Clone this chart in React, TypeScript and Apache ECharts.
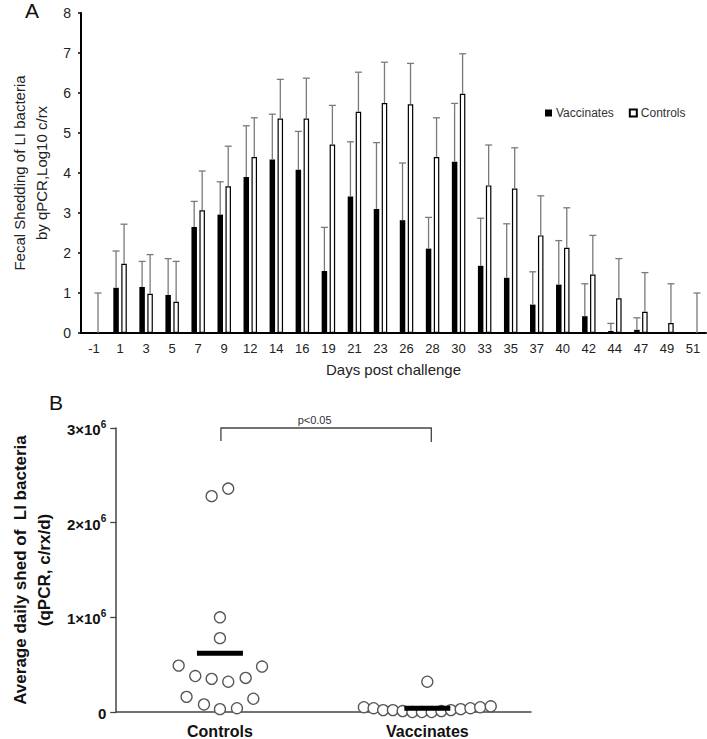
import React, { useEffect, useRef } from 'react';
import * as echarts from 'echarts';

const FONT = 'Arial, "Liberation Sans", Helvetica, sans-serif';

// Panel A data
const days = ['-1', '1', '3', '5', '7', '9', '12', '14', '16', '19', '21', '23', '26', '28', '30', '33', '35', '37', '40', '42', '44', '47', '49', '51'];
const vaccMean = [0, 1.13, 1.15, 0.95, 2.65, 2.96, 3.9, 4.34, 4.08, 1.55, 3.41, 3.1, 2.82, 2.11, 4.28, 1.68, 1.38, 0.71, 1.21, 0.42, 0.05, 0.08, 0, 0];
const vaccSD = [0, 0.92, 0.64, 0.91, 0.64, 0.82, 1.28, 1.13, 0.96, 1.09, 1.37, 1.66, 1.43, 0.78, 1.46, 1.19, 1.35, 0.82, 1.1, 0.81, 0.19, 0.3, 0, 0];
const ctrlMean = [0, 1.73, 0.98, 0.78, 3.07, 3.67, 4.4, 5.36, 5.36, 4.71, 5.53, 5.75, 5.72, 4.4, 5.98, 3.69, 3.61, 2.44, 2.13, 1.46, 0.87, 0.53, 0.25, 0];
const ctrlSD = [1.0, 0.99, 0.98, 1.01, 0.98, 1.0, 0.98, 0.98, 1.01, 0.98, 0.99, 1.02, 1.02, 0.98, 1.0, 1.01, 1.02, 0.99, 1.0, 0.98, 0.99, 0.98, 0.98, 1.0];

// Panel B data
const groups = ['Controls', 'Vaccinates'];
const controlsShed = [2.28e6, 2.36e6, 1.0e6, 0.78e6, 0.49e6, 0.48e6, 0.38e6, 0.35e6, 0.32e6, 0.36e6, 0.16e6, 0.14e6, 0.08e6, 0.03e6, 0.04e6];
const controlsJitter = [-0.04, 0.04, 0, 0, -0.199, 0.203, -0.119, -0.04, 0.04, 0.124, -0.161, 0.161, -0.077, 0, 0.082];
const vaccinatesShed = [0.05e6, 0.04e6, 0.02e6, 0.02e6, 0.01e6, 0, 0, 0, 0.01e6, 0.02e6, 0.03e6, 0.04e6, 0.05e6, 0.06e6, 0.32e6];
const vaccinatesJitter = [-0.306, -0.259, -0.213, -0.166, -0.119, -0.072, -0.026, 0.021, 0.068, 0.114, 0.161, 0.208, 0.255, 0.306, 0];
const groupMeans = [0.62e6, 0.04e6];
const bracketGroups = [0, 1];
const bracketLevel = 3e6;
const bracketLabel = 'p<0.05';

const ERR = '#7a7a7a';

function makeErr(offset: number) {
  return (params: any, api: any) => {
    const sd = api.value(2);
    if (!sd) return null;
    const m = api.value(1);
    const i = api.value(0);
    const x = api.coord([i, 0])[0] + offset;
    const y0 = api.coord([i, m])[1];
    const y1 = api.coord([i, m + sd])[1];
    return {
      type: 'group',
      children: [
        { type: 'line', shape: { x1: x, y1: y0, x2: x, y2: y1 }, style: { stroke: ERR, lineWidth: 1.3 } },
        { type: 'line', shape: { x1: x - 3.5, y1: y1, x2: x + 3.5, y2: y1 }, style: { stroke: ERR, lineWidth: 1.3 } },
      ],
    };
  };
}

export default function App() {
  const ref = useRef<HTMLDivElement>(null);
  useEffect(() => {
    const chart = echarts.init(ref.current!, null, { renderer: 'svg' });
    const option: any = {
      animation: false,
      backgroundColor: '#fff',
      textStyle: { fontFamily: FONT },
      graphic: [
        { type: 'text', left: 25, top: 0, style: { text: 'A', fontSize: 21, fontFamily: FONT, fill: '#111' } },
        { type: 'text', left: 49, top: 392, style: { text: 'B', fontSize: 21, fontFamily: FONT, fill: '#111' } },
      ],
      legend: {
        data: ['Vaccinates', 'Controls'],
        left: 540,
        top: 102,
        icon: 'rect',
        itemWidth: 7,
        itemHeight: 7,
        itemGap: 15,
        textStyle: { fontSize: 12, color: '#333', fontFamily: FONT, padding: [0, 0, 0, -1] },
      },
      grid: [
        { left: 73, right: 1, top: 13, height: 320 },
        { left: 103, width: 428, top: 428, height: 285 },
      ],
      xAxis: [
        {
          gridIndex: 0,
          type: 'category',
          data: days,
          axisLine: { lineStyle: { color: '#000', width: 2 } },
          axisTick: { show: false },
          axisLabel: { interval: 0, fontSize: 13, color: '#222', margin: 9, fontFamily: FONT },
          name: 'Days post challenge',
          nameLocation: 'middle',
          nameGap: 29,
          nameTextStyle: { fontSize: 15, color: '#222', fontFamily: FONT },
        },
        {
          gridIndex: 1,
          type: 'category',
          data: groups,
          axisLine: { lineStyle: { color: '#444', width: 1.5 } },
          axisTick: { alignWithLabel: true, length: 6, lineStyle: { color: '#444', width: 1.3 } },
          axisLabel: { fontSize: 16, fontWeight: 'bold', color: '#111', margin: 11, fontFamily: FONT },
        },
        { gridIndex: 1, type: 'value', min: -0.5, max: 1.5, show: false },
      ],
      yAxis: [
        {
          gridIndex: 0,
          type: 'value',
          min: 0,
          max: 8,
          interval: 1,
          splitLine: { show: false },
          axisLine: { show: true, onZero: false, lineStyle: { color: '#000', width: 2 } },
          axisTick: { show: true, length: 3, lineStyle: { color: '#000', width: 1.5 } },
          axisLabel: { fontSize: 14, color: '#222', margin: 10, fontFamily: FONT },
          name: 'Fecal Shedding of LI bacteria\nby qPCR,Log10 c/rx',
          nameLocation: 'middle',
          nameGap: 29,
          nameTextStyle: { fontSize: 15, lineHeight: 22, color: '#222', fontFamily: FONT },
        },
        {
          gridIndex: 1,
          type: 'value',
          min: 0,
          max: 3e6,
          interval: 1e6,
          splitLine: { show: false },
          axisLine: { show: true, onZero: false, lineStyle: { color: '#444', width: 1.5 } },
          axisTick: { show: true, length: 6, lineStyle: { color: '#444', width: 1.3 } },
          axisLabel: {
            margin: 10,
            formatter: (v: number) => (v === 0 ? '{b|0}' : `{b|${v / 1e6}×10}{s|6}`),
            rich: {
              b: { fontSize: 15, fontWeight: 'bold', color: '#111', fontFamily: FONT, lineHeight: 18, verticalAlign: 'bottom' },
              s: { fontSize: 10, fontWeight: 'bold', color: '#111', fontFamily: FONT, lineHeight: 18, verticalAlign: 'top' },
            },
          },
          name: 'Average daily shed of  LI bacteria\n(qPCR, c/rx/d)',
          nameLocation: 'middle',
          nameGap: 58,
          nameTextStyle: { fontSize: 17, fontWeight: 'bold', lineHeight: 24, color: '#111', fontFamily: FONT },
        },
      ],
      series: [
        {
          name: 'Vaccinates',
          type: 'bar',
          xAxisIndex: 0,
          yAxisIndex: 0,
          data: vaccMean,
          barWidth: 5.5,
          barGap: '45%',
          itemStyle: { color: '#000', borderColor: '#000', borderWidth: 0 },
          z: 2,
        },
        {
          name: 'Controls',
          type: 'bar',
          xAxisIndex: 0,
          yAxisIndex: 0,
          data: ctrlMean,
          barWidth: 5.5,
          barGap: '45%',
          itemStyle: { color: '#fff', borderColor: '#000', borderWidth: 1.2 },
          z: 2,
        },
        {
          type: 'custom',
          xAxisIndex: 0,
          yAxisIndex: 0,
          renderItem: makeErr(-4),
          data: days.map((d, i) => [i, vaccMean[i], vaccSD[i]]),
          encode: { x: 0, y: 1 },
          z: 3,
          silent: true,
        },
        {
          type: 'custom',
          xAxisIndex: 0,
          yAxisIndex: 0,
          renderItem: makeErr(4),
          data: days.map((d, i) => [i, ctrlMean[i], ctrlSD[i]]),
          encode: { x: 0, y: 1 },
          z: 3,
          silent: true,
        },
        {
          type: 'scatter',
          xAxisIndex: 2,
          yAxisIndex: 1,
          symbol: 'circle',
          symbolSize: 11,
          itemStyle: { color: '#fff', borderColor: '#555', borderWidth: 1.3, opacity: 1 },
          data: controlsShed.map((v, i) => [0 + controlsJitter[i], v]),
          z: 3,
        },
        {
          type: 'scatter',
          xAxisIndex: 2,
          yAxisIndex: 1,
          symbol: 'circle',
          symbolSize: 11,
          itemStyle: { color: '#fff', borderColor: '#555', borderWidth: 1.3, opacity: 1 },
          data: vaccinatesShed.map((v, i) => [1 + vaccinatesJitter[i], v]),
          z: 3,
        },
        {
          type: 'custom',
          xAxisIndex: 2,
          yAxisIndex: 1,
          data: groupMeans.map((m, i) => [i, m]),
          encode: { x: 0, y: 1 },
          z: 4,
          renderItem: (params: any, api: any) => {
            const p = api.coord([api.value(0), api.value(1)]);
            return { type: 'rect', shape: { x: p[0] - 23, y: p[1] - 2.5, width: 46, height: 5 }, style: { fill: '#000' } };
          },
        },
        {
          type: 'custom',
          xAxisIndex: 2,
          yAxisIndex: 1,
          data: [[bracketGroups[0], bracketGroups[1], bracketLevel]],
          encode: { x: [0, 1], y: 2 },
          z: 4,
          renderItem: (params: any, api: any) => {
            const a = api.coord([api.value(0), api.value(2)]);
            const b = api.coord([api.value(1), api.value(2)]);
            return {
              type: 'group',
              children: [
                {
                  type: 'polyline',
                  shape: { points: [[a[0] + 1, a[1] + 13], [a[0] + 1, a[1]], [b[0] + 4, b[1]], [b[0] + 4, b[1] + 14]] },
                  style: { stroke: '#444', lineWidth: 1.3, fill: 'none' },
                },
                {
                  type: 'text',
                  x: (a[0] + b[0]) / 2 - 9,
                  y: a[1] - 3,
                  style: { text: bracketLabel, fontSize: 11, fill: '#333', fontFamily: FONT, align: 'center', verticalAlign: 'bottom' },
                },
              ],
            };
          },
        },
      ],
    };
    chart.setOption(option);
    return () => chart.dispose();
  }, []);
  return <div ref={ref} style={{ position: 'absolute', left: 0, top: 0, width: 707, height: 739 }} />;
}
